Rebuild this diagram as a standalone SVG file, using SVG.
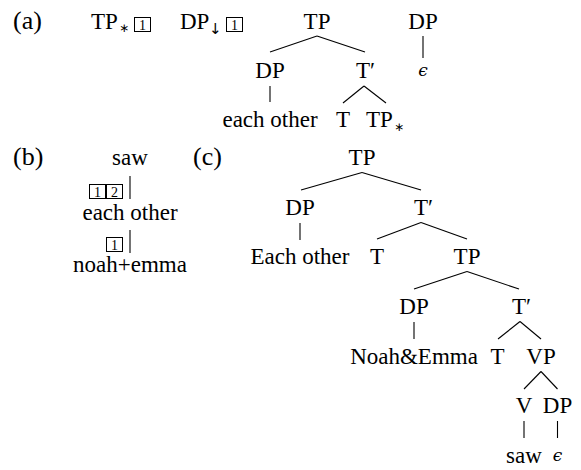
<svg xmlns="http://www.w3.org/2000/svg" width="581" height="470" viewBox="0 0 581 470">
<style>
text{font-family:"Liberation Serif","Times New Roman","DejaVu Serif",serif;font-size:23px;fill:#000}
.m{text-anchor:middle}
.lab{font-size:26px}
.sub{font-family:"DejaVu Sans","Liberation Sans",sans-serif;font-size:12px}
.arr{font-family:"DejaVu Sans","Liberation Sans",sans-serif;font-size:15px}
.eps{font-family:"DejaVu Serif",serif;font-style:italic;font-size:17px}
.bx{fill:none;stroke:#000;stroke-width:1}
.bn{font-size:14px;text-anchor:middle}
line{stroke:#000;stroke-width:1.1}
</style>
<rect width="581" height="470" fill="#fff"/>
<g id="labels">
<text class="lab" x="13" y="28.5">(a)</text>
<text class="lab" x="13" y="165">(b)</text>
<text class="lab" x="193" y="165">(c)</text>
</g>
<g id="a-elem1"><text x="91" y="28.5">TP</text><text class="sub" x="119" y="32">∗</text><rect class="bx" x="134.5" y="17.5" width="16" height="14"/><text class="bn" x="142.5" y="29.5">1</text></g>
<g id="a-elem2"><text x="180" y="28.5">DP</text><text class="arr" x="209" y="34">↓</text><rect class="bx" x="226.5" y="17.5" width="16" height="14"/><text class="bn" x="234.5" y="29.5">1</text></g>
<g id="a-tp"><text class="m" x="317" y="28.5">TP</text></g>
<g id="a-dp"><text class="m" x="270" y="78">DP</text></g>
<g id="a-eo"><text class="m" x="270" y="127">each other</text></g>
<g id="a-tbar"><text x="356" y="78">T′</text></g>
<g id="a-t"><text class="m" x="343" y="127">T</text></g>
<g id="a-tpstar"><text x="366" y="127">TP</text><text class="sub" x="394" y="131">∗</text></g>
<g id="a-dp2"><text class="m" x="423" y="28.5">DP</text></g>
<g id="a-eps"><text class="eps m" x="423" y="76">ϵ</text></g>
<g id="b-saw"><text class="m" x="130" y="165">saw</text></g>
<g id="b-box12"><rect class="bx" x="89.5" y="184.5" width="16" height="14"/><text class="bn" x="97.5" y="196.5">1</text><rect class="bx" x="106.5" y="184.5" width="16" height="14"/><text class="bn" x="114.5" y="196.5">2</text></g>
<g id="b-eo"><text class="m" x="130" y="220">each other</text></g>
<g id="b-box1"><rect class="bx" x="106.5" y="237.5" width="16" height="14"/><text class="bn" x="114.5" y="249.5">1</text></g>
<g id="b-ne"><text class="m" x="130" y="272">noah+emma</text></g>
<g id="c-tp"><text class="m" x="362" y="165">TP</text></g>
<g id="c-dp"><text class="m" x="300" y="215">DP</text></g>
<g id="c-eo"><text class="m" x="300" y="264">Each other</text></g>
<g id="c-tbar"><text x="414" y="215">T′</text></g>
<g id="c-t"><text class="m" x="377" y="264">T</text></g>
<g id="c-tp2"><text class="m" x="467" y="264">TP</text></g>
<g id="c-dp2"><text class="m" x="414" y="314">DP</text></g>
<g id="c-ne"><text class="m" x="414" y="364">Noah&amp;Emma</text></g>
<g id="c-tbar2"><text x="512" y="314">T′</text></g>
<g id="c-t2"><text class="m" x="497.5" y="364">T</text></g>
<g id="c-vp"><text class="m" x="541" y="364">VP</text></g>
<g id="c-v"><text class="m" x="524" y="413">V</text></g>
<g id="c-dp3"><text class="m" x="557.5" y="413">DP</text></g>
<g id="c-saw"><text class="m" x="524" y="463">saw</text></g>
<g id="c-eps"><text class="eps m" x="557.5" y="461">ϵ</text></g>
<g id="connectors">
<line x1="317" y1="36" x2="270" y2="52"/>
<line x1="317" y1="36" x2="365" y2="52"/>
<line x1="270" y1="86" x2="270" y2="102"/>
<line x1="364" y1="86" x2="343" y2="103"/>
<line x1="364" y1="86" x2="386" y2="103"/>
<line x1="423" y1="36" x2="423" y2="58"/>
<line x1="130" y1="176" x2="130" y2="199"/>
<line x1="130" y1="230" x2="130" y2="253"/>
<line x1="362" y1="172.5" x2="301" y2="190"/>
<line x1="362" y1="172.5" x2="421" y2="190"/>
<line x1="300" y1="223" x2="300" y2="240"/>
<line x1="421" y1="222.5" x2="377" y2="239"/>
<line x1="421" y1="222.5" x2="467" y2="239"/>
<line x1="467" y1="271.5" x2="414" y2="289"/>
<line x1="467" y1="271.5" x2="519" y2="289"/>
<line x1="414" y1="322" x2="414" y2="339"/>
<line x1="520" y1="321.5" x2="498" y2="339"/>
<line x1="520" y1="321.5" x2="541" y2="339"/>
<line x1="541" y1="371.5" x2="524" y2="389"/>
<line x1="541" y1="371.5" x2="557.5" y2="389"/>
<line x1="524" y1="421" x2="524" y2="438"/>
<line x1="557.5" y1="421" x2="557.5" y2="438"/>
</g>
</svg>
